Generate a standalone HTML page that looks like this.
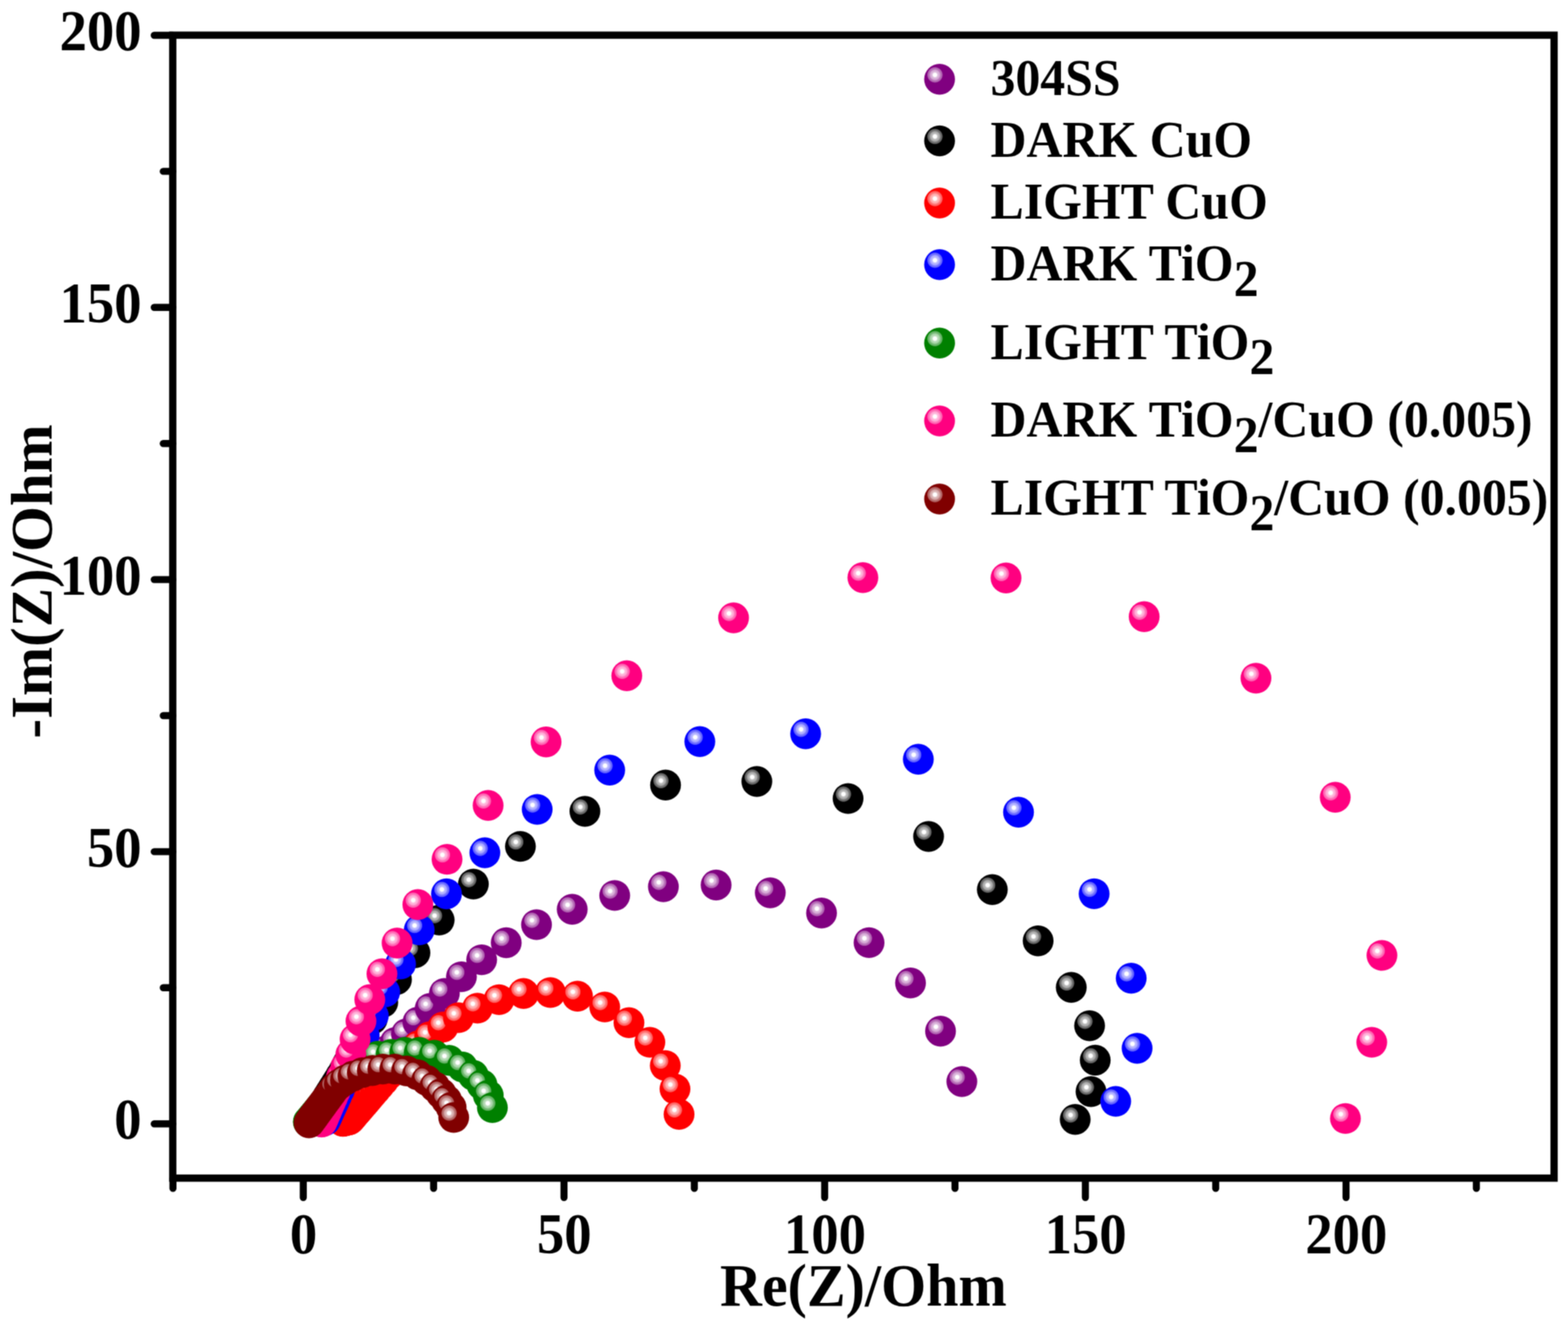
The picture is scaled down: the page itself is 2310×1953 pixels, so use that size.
<!DOCTYPE html>
<html lang="en"><head><meta charset="utf-8"><title>Nyquist plot</title>
<style>html,body{margin:0;padding:0;background:#fff}body{width:2310px;height:1953px;overflow:hidden}svg{display:block}text{font-family:"Liberation Serif","Times New Roman",serif;font-weight:bold;fill:#000}</style></head><body>
<svg width="2310" height="1953" viewBox="0 0 2310 1953">
<defs>
<radialGradient id="hl" cx="0.5" cy="0.5" r="0.5"><stop offset="0" stop-color="#fff" stop-opacity="1"/><stop offset="0.22" stop-color="#fff" stop-opacity="1"/><stop offset="0.36" stop-color="#fff" stop-opacity="0.74"/><stop offset="0.58" stop-color="#fff" stop-opacity="0.66"/><stop offset="0.72" stop-color="#fff" stop-opacity="0.46"/><stop offset="0.92" stop-color="#fff" stop-opacity="0.36"/><stop offset="1" stop-color="#fff" stop-opacity="0"/></radialGradient>
<g id="m-purple"><circle r="22.7" fill="#800080"/><circle cx="-6.8" cy="-6.5" r="11.7" fill="url(#hl)"/></g>
<g id="m-black"><circle r="22.7" fill="#000000"/><circle cx="-6.8" cy="-6.5" r="11.7" fill="url(#hl)"/></g>
<g id="m-red"><circle r="22.7" fill="#ff0000"/><circle cx="-6.8" cy="-6.5" r="11.7" fill="url(#hl)"/></g>
<g id="m-blue"><circle r="22.7" fill="#0000ff"/><circle cx="-6.8" cy="-6.5" r="11.7" fill="url(#hl)"/></g>
<g id="m-green"><circle r="22.7" fill="#008000"/><circle cx="-6.8" cy="-6.5" r="11.7" fill="url(#hl)"/></g>
<g id="m-pink"><circle r="22.7" fill="#ff0080"/><circle cx="-6.8" cy="-6.5" r="11.7" fill="url(#hl)"/></g>
<g id="m-brown"><circle r="22.7" fill="#800000"/><circle cx="-6.8" cy="-6.5" r="11.7" fill="url(#hl)"/></g>
<filter id="soft" filterUnits="userSpaceOnUse" x="0" y="0" width="2310" height="1953" color-interpolation-filters="sRGB"><feConvolveMatrix order="3" kernelMatrix="1 2 1 2 4 2 1 2 1" divisor="16" edgeMode="duplicate" preserveAlpha="true"/></filter>
</defs>
<rect width="2310" height="1953" fill="#fff"/>
<g filter="url(#soft)">
<rect width="2310" height="1953" fill="#fff"/>
<g>
<use href="#m-purple" x="506.5" y="1649.5"/>
<use href="#m-purple" x="506.6" y="1649.2"/>
<use href="#m-purple" x="507.0" y="1648.0"/>
<use href="#m-purple" x="507.4" y="1646.9"/>
<use href="#m-purple" x="507.8" y="1645.8"/>
<use href="#m-purple" x="508.2" y="1644.6"/>
<use href="#m-purple" x="508.6" y="1643.5"/>
<use href="#m-purple" x="509.0" y="1642.4"/>
<use href="#m-purple" x="509.4" y="1641.2"/>
<use href="#m-purple" x="509.8" y="1640.0"/>
<use href="#m-purple" x="510.3" y="1638.6"/>
<use href="#m-purple" x="510.8" y="1637.1"/>
<use href="#m-purple" x="511.5" y="1635.2"/>
<use href="#m-purple" x="512.2" y="1633.1"/>
<use href="#m-purple" x="513.1" y="1630.7"/>
<use href="#m-purple" x="514.0" y="1627.9"/>
<use href="#m-purple" x="515.6" y="1624.9"/>
<use href="#m-purple" x="517.4" y="1621.5"/>
<use href="#m-purple" x="519.5" y="1617.5"/>
<use href="#m-purple" x="521.9" y="1613.0"/>
<use href="#m-purple" x="524.6" y="1607.7"/>
<use href="#m-purple" x="528.1" y="1601.9"/>
<use href="#m-purple" x="532.2" y="1595.3"/>
<use href="#m-purple" x="537.0" y="1587.7"/>
<use href="#m-purple" x="543.0" y="1579.3"/>
<use href="#m-purple" x="550.0" y="1569.7"/>
<use href="#m-purple" x="558.8" y="1559.3"/>
<use href="#m-purple" x="569.3" y="1547.8"/>
<use href="#m-purple" x="582.4" y="1535.4"/>
<use href="#m-purple" x="598.8" y="1522.8"/>
<use href="#m-purple" x="615.7" y="1505.5"/>
<use href="#m-purple" x="633.8" y="1485.1"/>
<use href="#m-purple" x="654.7" y="1463.1"/>
<use href="#m-purple" x="679.8" y="1438.6"/>
<use href="#m-purple" x="709.6" y="1413.6"/>
<use href="#m-purple" x="745.8" y="1388.5"/>
<use href="#m-purple" x="790.4" y="1361.9"/>
<use href="#m-purple" x="843.0" y="1339.2"/>
<use href="#m-purple" x="905.6" y="1318.9"/>
<use href="#m-purple" x="977.3" y="1306.0"/>
<use href="#m-purple" x="1055.0" y="1303.5"/>
<use href="#m-purple" x="1134.8" y="1315.0"/>
<use href="#m-purple" x="1210.3" y="1344.8"/>
<use href="#m-purple" x="1280.3" y="1388.4"/>
<use href="#m-purple" x="1341.4" y="1447.7"/>
<use href="#m-purple" x="1385.6" y="1518.8"/>
<use href="#m-purple" x="1417.0" y="1593.0"/>
</g>
<g>
<use href="#m-black" x="468.5" y="1650.5"/>
<use href="#m-black" x="471.5" y="1643.2"/>
<use href="#m-black" x="471.9" y="1642.1"/>
<use href="#m-black" x="472.4" y="1641.0"/>
<use href="#m-black" x="472.8" y="1639.9"/>
<use href="#m-black" x="473.3" y="1638.8"/>
<use href="#m-black" x="473.8" y="1637.7"/>
<use href="#m-black" x="474.2" y="1636.6"/>
<use href="#m-black" x="474.7" y="1635.5"/>
<use href="#m-black" x="475.1" y="1634.4"/>
<use href="#m-black" x="475.6" y="1633.3"/>
<use href="#m-black" x="476.0" y="1632.1"/>
<use href="#m-black" x="476.5" y="1631.0"/>
<use href="#m-black" x="477.0" y="1629.9"/>
<use href="#m-black" x="477.4" y="1628.8"/>
<use href="#m-black" x="477.9" y="1627.7"/>
<use href="#m-black" x="478.3" y="1626.6"/>
<use href="#m-black" x="478.8" y="1625.5"/>
<use href="#m-black" x="479.2" y="1624.4"/>
<use href="#m-black" x="479.7" y="1623.3"/>
<use href="#m-black" x="480.1" y="1622.2"/>
<use href="#m-black" x="480.6" y="1621.0"/>
<use href="#m-black" x="481.1" y="1619.9"/>
<use href="#m-black" x="481.5" y="1618.8"/>
<use href="#m-black" x="482.0" y="1617.7"/>
<use href="#m-black" x="482.6" y="1616.4"/>
<use href="#m-black" x="483.5" y="1614.9"/>
<use href="#m-black" x="484.7" y="1613.0"/>
<use href="#m-black" x="486.0" y="1610.9"/>
<use href="#m-black" x="487.6" y="1608.2"/>
<use href="#m-black" x="489.6" y="1605.0"/>
<use href="#m-black" x="491.9" y="1601.2"/>
<use href="#m-black" x="494.8" y="1596.6"/>
<use href="#m-black" x="498.2" y="1591.0"/>
<use href="#m-black" x="502.3" y="1584.3"/>
<use href="#m-black" x="507.1" y="1576.1"/>
<use href="#m-black" x="512.5" y="1566.0"/>
<use href="#m-black" x="518.9" y="1553.9"/>
<use href="#m-black" x="526.7" y="1539.2"/>
<use href="#m-black" x="536.4" y="1521.8"/>
<use href="#m-black" x="548.4" y="1500.9"/>
<use href="#m-black" x="563.9" y="1476.4"/>
<use href="#m-black" x="584.1" y="1442.7"/>
<use href="#m-black" x="611.3" y="1403.3"/>
<use href="#m-black" x="647.0" y="1355.1"/>
<use href="#m-black" x="697.4" y="1302.1"/>
<use href="#m-black" x="766.7" y="1246.6"/>
<use href="#m-black" x="861.7" y="1195.0"/>
<use href="#m-black" x="980.5" y="1156.3"/>
<use href="#m-black" x="1115.0" y="1151.0"/>
<use href="#m-black" x="1249.4" y="1176.1"/>
<use href="#m-black" x="1368.0" y="1232.0"/>
<use href="#m-black" x="1461.9" y="1310.2"/>
<use href="#m-black" x="1529.4" y="1385.8"/>
<use href="#m-black" x="1578.2" y="1454.3"/>
<use href="#m-black" x="1605.2" y="1510.8"/>
<use href="#m-black" x="1613.5" y="1561.5"/>
<use href="#m-black" x="1607.3" y="1607.8"/>
<use href="#m-black" x="1584.0" y="1648.7"/>
</g>
<g>
<use href="#m-red" x="505.0" y="1651.5"/>
<use href="#m-red" x="505.3" y="1651.4"/>
<use href="#m-red" x="506.4" y="1651.2"/>
<use href="#m-red" x="507.6" y="1650.9"/>
<use href="#m-red" x="508.8" y="1650.6"/>
<use href="#m-red" x="509.9" y="1650.3"/>
<use href="#m-red" x="511.1" y="1650.0"/>
<use href="#m-red" x="512.3" y="1649.8"/>
<use href="#m-red" x="513.4" y="1649.5"/>
<use href="#m-red" x="514.6" y="1649.2"/>
<use href="#m-red" x="515.4" y="1648.3"/>
<use href="#m-red" x="516.2" y="1647.4"/>
<use href="#m-red" x="517.0" y="1646.5"/>
<use href="#m-red" x="517.8" y="1645.6"/>
<use href="#m-red" x="518.6" y="1644.6"/>
<use href="#m-red" x="519.5" y="1643.5"/>
<use href="#m-red" x="520.6" y="1642.3"/>
<use href="#m-red" x="521.8" y="1640.9"/>
<use href="#m-red" x="523.2" y="1639.3"/>
<use href="#m-red" x="524.8" y="1637.5"/>
<use href="#m-red" x="526.6" y="1635.5"/>
<use href="#m-red" x="528.6" y="1633.2"/>
<use href="#m-red" x="530.9" y="1630.5"/>
<use href="#m-red" x="533.5" y="1627.5"/>
<use href="#m-red" x="536.5" y="1624.1"/>
<use href="#m-red" x="539.9" y="1620.2"/>
<use href="#m-red" x="543.7" y="1615.8"/>
<use href="#m-red" x="548.0" y="1610.8"/>
<use href="#m-red" x="553.0" y="1605.0"/>
<use href="#m-red" x="558.6" y="1598.5"/>
<use href="#m-red" x="564.9" y="1591.1"/>
<use href="#m-red" x="572.2" y="1582.8"/>
<use href="#m-red" x="580.8" y="1573.6"/>
<use href="#m-red" x="590.8" y="1563.4"/>
<use href="#m-red" x="602.6" y="1552.1"/>
<use href="#m-red" x="616.6" y="1540.1"/>
<use href="#m-red" x="633.0" y="1527.0"/>
<use href="#m-red" x="652.5" y="1512.8"/>
<use href="#m-red" x="675.4" y="1498.9"/>
<use href="#m-red" x="703.4" y="1484.9"/>
<use href="#m-red" x="735.2" y="1472.4"/>
<use href="#m-red" x="771.3" y="1463.3"/>
<use href="#m-red" x="810.9" y="1461.9"/>
<use href="#m-red" x="850.8" y="1467.3"/>
<use href="#m-red" x="890.9" y="1483.1"/>
<use href="#m-red" x="926.6" y="1506.2"/>
<use href="#m-red" x="957.4" y="1535.1"/>
<use href="#m-red" x="980.1" y="1569.4"/>
<use href="#m-red" x="994.4" y="1603.9"/>
<use href="#m-red" x="1000.4" y="1641.2"/>
</g>
<g>
<use href="#m-blue" x="479.0" y="1650.3"/>
<use href="#m-blue" x="479.4" y="1649.4"/>
<use href="#m-blue" x="479.9" y="1648.3"/>
<use href="#m-blue" x="480.4" y="1647.2"/>
<use href="#m-blue" x="481.0" y="1646.1"/>
<use href="#m-blue" x="481.5" y="1645.0"/>
<use href="#m-blue" x="482.1" y="1643.7"/>
<use href="#m-blue" x="482.8" y="1642.1"/>
<use href="#m-blue" x="483.8" y="1640.1"/>
<use href="#m-blue" x="484.9" y="1637.6"/>
<use href="#m-blue" x="486.3" y="1634.6"/>
<use href="#m-blue" x="488.1" y="1630.9"/>
<use href="#m-blue" x="490.2" y="1626.4"/>
<use href="#m-blue" x="492.8" y="1620.8"/>
<use href="#m-blue" x="495.9" y="1614.0"/>
<use href="#m-blue" x="499.9" y="1605.6"/>
<use href="#m-blue" x="504.6" y="1595.3"/>
<use href="#m-blue" x="510.3" y="1582.6"/>
<use href="#m-blue" x="517.3" y="1567.0"/>
<use href="#m-blue" x="525.8" y="1547.9"/>
<use href="#m-blue" x="536.5" y="1524.5"/>
<use href="#m-blue" x="550.0" y="1495.9"/>
<use href="#m-blue" x="566.8" y="1461.1"/>
<use href="#m-blue" x="590.1" y="1419.7"/>
<use href="#m-blue" x="617.6" y="1369.6"/>
<use href="#m-blue" x="657.8" y="1316.5"/>
<use href="#m-blue" x="714.3" y="1256.0"/>
<use href="#m-blue" x="791.4" y="1192.1"/>
<use href="#m-blue" x="898.2" y="1134.3"/>
<use href="#m-blue" x="1031.0" y="1092.3"/>
<use href="#m-blue" x="1186.9" y="1080.7"/>
<use href="#m-blue" x="1352.9" y="1118.2"/>
<use href="#m-blue" x="1500.5" y="1196.2"/>
<use href="#m-blue" x="1611.9" y="1316.4"/>
<use href="#m-blue" x="1666.5" y="1440.8"/>
<use href="#m-blue" x="1675.2" y="1544.0"/>
<use href="#m-blue" x="1643.7" y="1622.1"/>
</g>
<g>
<use href="#m-green" x="454.3" y="1652.4"/>
<use href="#m-green" x="454.5" y="1652.2"/>
<use href="#m-green" x="456.1" y="1650.2"/>
<use href="#m-green" x="457.9" y="1648.0"/>
<use href="#m-green" x="460.1" y="1645.3"/>
<use href="#m-green" x="462.6" y="1642.2"/>
<use href="#m-green" x="465.6" y="1638.6"/>
<use href="#m-green" x="469.1" y="1634.4"/>
<use href="#m-green" x="473.1" y="1629.4"/>
<use href="#m-green" x="477.8" y="1623.7"/>
<use href="#m-green" x="483.2" y="1617.1"/>
<use href="#m-green" x="489.3" y="1609.6"/>
<use href="#m-green" x="496.0" y="1600.8"/>
<use href="#m-green" x="503.2" y="1590.6"/>
<use href="#m-green" x="512.1" y="1579.9"/>
<use href="#m-green" x="524.0" y="1570.0"/>
<use href="#m-green" x="539.1" y="1562.1"/>
<use href="#m-green" x="556.4" y="1555.6"/>
<use href="#m-green" x="576.2" y="1553.0"/>
<use href="#m-green" x="596.3" y="1550.0"/>
<use href="#m-green" x="617.7" y="1550.0"/>
<use href="#m-green" x="639.8" y="1554.3"/>
<use href="#m-green" x="661.6" y="1561.8"/>
<use href="#m-green" x="681.1" y="1571.5"/>
<use href="#m-green" x="697.2" y="1583.7"/>
<use href="#m-green" x="710.1" y="1597.8"/>
<use href="#m-green" x="719.3" y="1613.1"/>
<use href="#m-green" x="725.4" y="1631.4"/>
</g>
<g>
<use href="#m-pink" x="473.8" y="1652.6"/>
<use href="#m-pink" x="474.0" y="1652.2"/>
<use href="#m-pink" x="474.4" y="1651.1"/>
<use href="#m-pink" x="474.9" y="1650.0"/>
<use href="#m-pink" x="475.4" y="1648.9"/>
<use href="#m-pink" x="475.9" y="1647.8"/>
<use href="#m-pink" x="476.4" y="1646.7"/>
<use href="#m-pink" x="476.9" y="1645.6"/>
<use href="#m-pink" x="477.4" y="1644.4"/>
<use href="#m-pink" x="478.1" y="1642.8"/>
<use href="#m-pink" x="478.9" y="1640.9"/>
<use href="#m-pink" x="480.0" y="1638.5"/>
<use href="#m-pink" x="481.2" y="1635.7"/>
<use href="#m-pink" x="482.8" y="1632.1"/>
<use href="#m-pink" x="484.7" y="1627.8"/>
<use href="#m-pink" x="487.0" y="1622.5"/>
<use href="#m-pink" x="489.9" y="1616.0"/>
<use href="#m-pink" x="493.4" y="1608.0"/>
<use href="#m-pink" x="497.7" y="1598.2"/>
<use href="#m-pink" x="503.1" y="1586.2"/>
<use href="#m-pink" x="509.5" y="1571.4"/>
<use href="#m-pink" x="516.9" y="1553.0"/>
<use href="#m-pink" x="523.1" y="1530.6"/>
<use href="#m-pink" x="531.8" y="1504.0"/>
<use href="#m-pink" x="544.8" y="1472.2"/>
<use href="#m-pink" x="562.7" y="1434.2"/>
<use href="#m-pink" x="585.0" y="1389.0"/>
<use href="#m-pink" x="615.6" y="1332.3"/>
<use href="#m-pink" x="658.6" y="1265.6"/>
<use href="#m-pink" x="719.1" y="1186.2"/>
<use href="#m-pink" x="804.5" y="1092.7"/>
<use href="#m-pink" x="923.4" y="995.3"/>
<use href="#m-pink" x="1080.7" y="910.0"/>
<use href="#m-pink" x="1271.2" y="850.7"/>
<use href="#m-pink" x="1482.1" y="851.3"/>
<use href="#m-pink" x="1685.6" y="908.3"/>
<use href="#m-pink" x="1850.3" y="998.9"/>
<use href="#m-pink" x="1967.1" y="1174.2"/>
<use href="#m-pink" x="2035.9" y="1407.1"/>
<use href="#m-pink" x="2020.9" y="1535.1"/>
<use href="#m-pink" x="1982.1" y="1647.4"/>
</g>
<g>
<use href="#m-brown" x="455.2" y="1653.7"/>
<use href="#m-brown" x="455.7" y="1653.1"/>
<use href="#m-brown" x="456.4" y="1652.1"/>
<use href="#m-brown" x="457.1" y="1651.1"/>
<use href="#m-brown" x="457.8" y="1650.2"/>
<use href="#m-brown" x="458.5" y="1649.2"/>
<use href="#m-brown" x="459.2" y="1648.2"/>
<use href="#m-brown" x="459.9" y="1647.3"/>
<use href="#m-brown" x="460.7" y="1646.3"/>
<use href="#m-brown" x="461.4" y="1645.3"/>
<use href="#m-brown" x="462.3" y="1644.2"/>
<use href="#m-brown" x="463.2" y="1642.9"/>
<use href="#m-brown" x="464.3" y="1641.4"/>
<use href="#m-brown" x="465.6" y="1639.7"/>
<use href="#m-brown" x="467.0" y="1637.8"/>
<use href="#m-brown" x="468.6" y="1635.6"/>
<use href="#m-brown" x="470.4" y="1633.1"/>
<use href="#m-brown" x="472.5" y="1630.3"/>
<use href="#m-brown" x="474.9" y="1627.1"/>
<use href="#m-brown" x="477.6" y="1623.4"/>
<use href="#m-brown" x="480.7" y="1619.2"/>
<use href="#m-brown" x="484.2" y="1614.5"/>
<use href="#m-brown" x="488.2" y="1609.1"/>
<use href="#m-brown" x="492.8" y="1602.9"/>
<use href="#m-brown" x="499.8" y="1596.7"/>
<use href="#m-brown" x="508.8" y="1590.7"/>
<use href="#m-brown" x="520.0" y="1585.0"/>
<use href="#m-brown" x="533.7" y="1579.9"/>
<use href="#m-brown" x="548.5" y="1576.7"/>
<use href="#m-brown" x="564.0" y="1574.6"/>
<use href="#m-brown" x="581.6" y="1574.6"/>
<use href="#m-brown" x="599.0" y="1577.4"/>
<use href="#m-brown" x="615.0" y="1583.0"/>
<use href="#m-brown" x="628.6" y="1591.3"/>
<use href="#m-brown" x="640.5" y="1600.6"/>
<use href="#m-brown" x="650.0" y="1610.8"/>
<use href="#m-brown" x="657.8" y="1620.3"/>
<use href="#m-brown" x="664.6" y="1630.9"/>
<use href="#m-brown" x="668.4" y="1645.9"/>
</g>
<g stroke="#000" stroke-width="10.7" fill="none">
<rect x="254.5" y="51.8" width="2035.0" height="1683.4" stroke-linejoin="miter"/>
</g>
<g stroke="#000" stroke-width="10.4" stroke-linecap="round" fill="none">
<line x1="254.8" y1="1735.2" x2="254.8" y2="1750.3"/>
<line x1="446.8" y1="1735.2" x2="446.8" y2="1763.8"/>
<line x1="638.8" y1="1735.2" x2="638.8" y2="1750.3"/>
<line x1="830.9" y1="1735.2" x2="830.9" y2="1763.8"/>
<line x1="1022.9" y1="1735.2" x2="1022.9" y2="1750.3"/>
<line x1="1214.9" y1="1735.2" x2="1214.9" y2="1763.8"/>
<line x1="1406.9" y1="1735.2" x2="1406.9" y2="1750.3"/>
<line x1="1599.0" y1="1735.2" x2="1599.0" y2="1763.8"/>
<line x1="1791.0" y1="1735.2" x2="1791.0" y2="1750.3"/>
<line x1="1983.0" y1="1735.2" x2="1983.0" y2="1763.8"/>
<line x1="2175.0" y1="1735.2" x2="2175.0" y2="1750.3"/>
<line x1="254.5" y1="1655.2" x2="227.2" y2="1655.2"/>
<line x1="254.5" y1="1454.8" x2="240.5" y2="1454.8"/>
<line x1="254.5" y1="1254.4" x2="227.2" y2="1254.4"/>
<line x1="254.5" y1="1054.0" x2="240.5" y2="1054.0"/>
<line x1="254.5" y1="853.6" x2="227.2" y2="853.6"/>
<line x1="254.5" y1="653.2" x2="240.5" y2="653.2"/>
<line x1="254.5" y1="452.8" x2="227.2" y2="452.8"/>
<line x1="254.5" y1="252.4" x2="240.5" y2="252.4"/>
<line x1="254.5" y1="52.0" x2="227.2" y2="52.0"/>
</g>
<text transform="translate(447.2 1846.0) scale(1.0000 1.0400)" font-size="80.6" text-anchor="middle">0</text>
<text transform="translate(831.2 1846.0) scale(1.0000 1.0400)" font-size="80.6" text-anchor="middle">50</text>
<text transform="translate(1215.3 1846.0) scale(1.0000 1.0400)" font-size="80.6" text-anchor="middle">100</text>
<text transform="translate(1599.4 1846.0) scale(1.0000 1.0400)" font-size="80.6" text-anchor="middle">150</text>
<text transform="translate(1983.4 1846.0) scale(1.0000 1.0400)" font-size="80.6" text-anchor="middle">200</text>
<text transform="translate(208.6 1677.3) scale(1.0000 1.0400)" font-size="80.6" text-anchor="end">0</text>
<text transform="translate(208.6 1276.5) scale(1.0000 1.0400)" font-size="80.6" text-anchor="end">50</text>
<text transform="translate(208.6 875.7) scale(1.0000 1.0400)" font-size="80.6" text-anchor="end">100</text>
<text transform="translate(208.6 474.9) scale(1.0000 1.0400)" font-size="80.6" text-anchor="end">150</text>
<text transform="translate(208.6 74.1) scale(1.0000 1.0400)" font-size="80.6" text-anchor="end">200</text>
<text transform="translate(1272.0 1922.8) scale(1.0000 1.0350)" font-size="85.5" text-anchor="middle">Re(Z)/Ohm</text>
<text transform="translate(76.3 856.3) rotate(-90)" font-size="86.8" text-anchor="middle">-Im(Z)/Ohm</text>
<use href="#m-purple" x="1384.2" y="116.8"/>
<text transform="translate(1459.2 140.2) scale(1.0000 1.0350)" font-size="73.4" text-anchor="start">304SS</text>
<use href="#m-black" x="1384.2" y="207.5"/>
<text transform="translate(1459.2 230.9) scale(1.0000 1.0350)" font-size="73.4" text-anchor="start">DARK CuO</text>
<use href="#m-red" x="1384.2" y="299.0"/>
<text transform="translate(1459.2 322.4) scale(1.0000 1.0350)" font-size="73.4" text-anchor="start">LIGHT CuO</text>
<use href="#m-blue" x="1384.2" y="389.8"/>
<text transform="translate(1459.2 413.2) scale(1.0000 1.0350)" font-size="73.4" text-anchor="start">DARK TiO<tspan dy="21.6">2</tspan><tspan dy="-21.6"></tspan></text>
<use href="#m-green" x="1384.2" y="505.2"/>
<text transform="translate(1459.2 528.6) scale(1.0000 1.0350)" font-size="73.4" text-anchor="start">LIGHT TiO<tspan dy="21.6">2</tspan><tspan dy="-21.6"></tspan></text>
<use href="#m-pink" x="1384.2" y="620.0"/>
<text transform="translate(1459.2 643.4) scale(1.0000 1.0350)" font-size="73.4" text-anchor="start">DARK TiO<tspan dy="21.6">2</tspan><tspan dy="-21.6">/CuO (0.005)</tspan></text>
<use href="#m-brown" x="1384.2" y="735.0"/>
<text transform="translate(1459.2 758.4) scale(1.0000 1.0350)" font-size="73.4" text-anchor="start">LIGHT TiO<tspan dy="21.6">2</tspan><tspan dy="-21.6">/CuO (0.005)</tspan></text>
</g>
</svg></body></html>
